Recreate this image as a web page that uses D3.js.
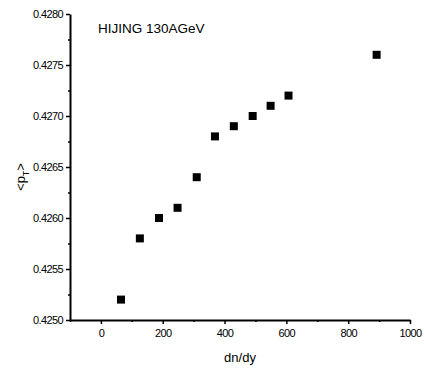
<!DOCTYPE html>
<html>
<head>
<meta charset="utf-8">
<script src="https://cdn.jsdelivr.net/npm/d3@7"></script>
<style>
  body { margin: 0; background: #fff; }
  text { font-family: "Liberation Sans", Arial, sans-serif; fill: #000; }
</style>
</head>
<body>
<svg id="chart"></svg>
<script>
const width = 424;
const height = 373;

// data
const dndy = [65, 126, 188, 248, 310, 369, 430, 491, 549, 607, 892];
const meanPt = [0.4252, 0.4258, 0.4260, 0.4261, 0.4264, 0.4268, 0.4269, 0.4270, 0.4271, 0.4272, 0.4276];
const xTicks = [0, 200, 400, 600, 800, 1000];
const yTicks = [0.4250, 0.4255, 0.4260, 0.4265, 0.4270, 0.4275, 0.4280];

const margin = { left: 70, right: 410, top: 14, bottom: 320 };

const x = d3.scaleLinear().domain([-100, 1000]).range([margin.left, margin.right]);
const y = d3.scaleLinear().domain([0.4250, 0.4280]).range([margin.bottom, margin.top]);

const svg = d3.select("#chart")
    .attr("width", width)
    .attr("height", height);

// minor ticks first, majors drawn on top
const xMinor = d3.range(-100, 1000, 200);
const yMinor = d3.range(0, 6).map(i => 0.42525 + i * 0.0005);

svg.append("g")
    .attr("transform", `translate(0,${margin.bottom})`)
    .call(d3.axisBottom(x).tickValues(xMinor).tickSize(2).tickFormat(""))
    .call(g => g.select(".domain").remove())
    .selectAll("line").attr("stroke-width", 1.5);

svg.append("g")
    .attr("transform", `translate(${margin.left},0)`)
    .call(d3.axisLeft(y).tickValues(yMinor).tickSize(2).tickFormat(""))
    .call(g => g.select(".domain").remove())
    .selectAll("line").attr("stroke-width", 1.5);

// x axis
const xAxis = svg.append("g")
    .attr("transform", `translate(0,${margin.bottom})`)
    .call(d3.axisBottom(x).tickValues(xTicks).tickSize(4).tickSizeOuter(0).tickPadding(5).tickFormat(d3.format("d")));
xAxis.select(".domain").attr("stroke-width", 2);
xAxis.selectAll(".tick line").attr("stroke-width", 1.5);
xAxis.selectAll("text").style("font-size", "11px").attr("letter-spacing", "-0.6").attr("fill", "#000");

// y axis
const yAxis = svg.append("g")
    .attr("transform", `translate(${margin.left},0)`)
    .call(d3.axisLeft(y).tickValues(yTicks).tickSize(4).tickSizeOuter(0).tickPadding(3).tickFormat(d3.format(".4f")));
yAxis.select(".domain").attr("stroke-width", 2);
yAxis.selectAll(".tick line").attr("stroke-width", 1.5);
yAxis.selectAll("text").style("font-size", "11px").attr("letter-spacing", "-0.6").attr("fill", "#000");

// points
svg.append("g")
    .selectAll("rect")
    .data(dndy)
    .join("rect")
    .attr("x", (d, i) => x(d) - 4)
    .attr("y", (d, i) => y(meanPt[i]) - 4)
    .attr("width", 8)
    .attr("height", 8)
    .attr("fill", "#000");

// labels
svg.append("text")
    .attr("x", 98)
    .attr("y", 33)
    .style("font-size", "13.5px")
    .text("HIJING 130AGeV");

svg.append("text")
    .attr("x", (margin.left + margin.right) / 2)
    .attr("y", 362)
    .attr("text-anchor", "middle")
    .style("font-size", "13px")
    .text("dn/dy");

const yl = svg.append("text")
    .attr("transform", "translate(25,177) rotate(-90)")
    .attr("text-anchor", "middle")
    .style("font-size", "13px");
yl.append("tspan").text("<p");
yl.append("tspan").attr("dy", 4).style("font-size", "9px").text("T");
yl.append("tspan").attr("dy", -4).text(">");
</script>
</body>
</html>
